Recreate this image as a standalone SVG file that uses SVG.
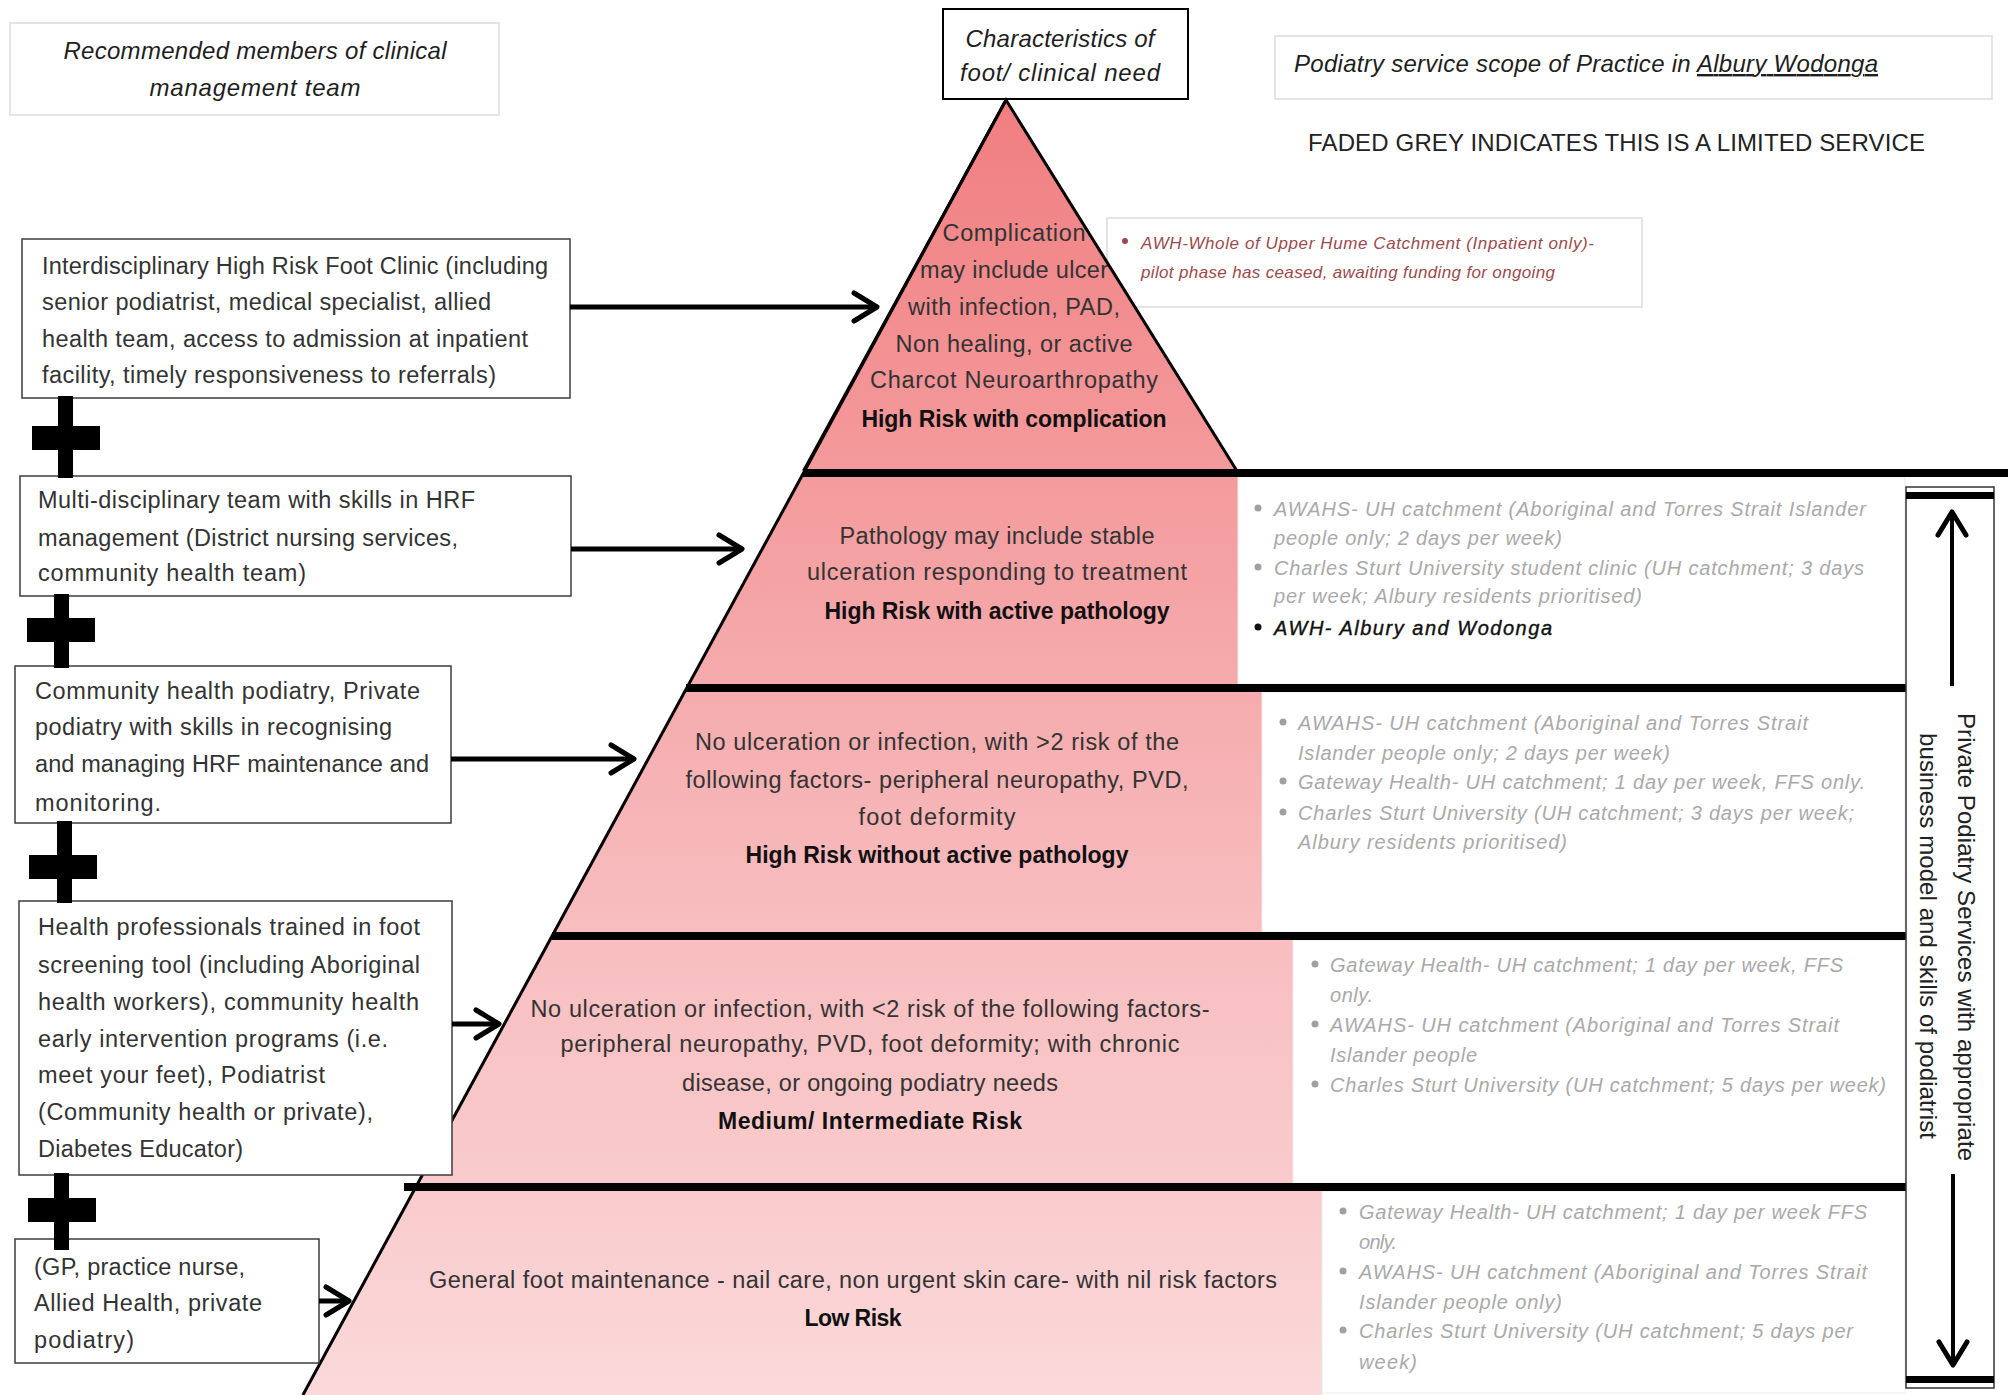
<svg xmlns="http://www.w3.org/2000/svg" width="2008" height="1395" viewBox="0 0 2008 1395">
<defs>
<linearGradient id="pg" gradientUnits="userSpaceOnUse" x1="0" y1="100" x2="0" y2="1395">
<stop offset="0" stop-color="#F07E80"/>
<stop offset="0.286" stop-color="#F49A9C"/>
<stop offset="0.45" stop-color="#F5ABAD"/>
<stop offset="0.645" stop-color="#F8BEC0"/>
<stop offset="0.84" stop-color="#F9CBCC"/>
<stop offset="1" stop-color="#FBD9DA"/>
</linearGradient>
<marker id="ah" viewBox="0 0 32 32" markerWidth="32" markerHeight="32" refX="27" refY="16" orient="auto" markerUnits="userSpaceOnUse" overflow="visible">
<path d="M4,2 L27,16 L4,30" fill="none" stroke="#000" stroke-width="5" stroke-linejoin="round" stroke-linecap="round"/>
</marker>
<style>
.box{fill:#fff;stroke:#3c3c3c;stroke-width:1.5}
.fbox{fill:#fff;stroke:#dcdcdc;stroke-width:1.5}
.t{font-family:'Liberation Sans',Arial,sans-serif;font-size:23.5px;fill:#333}
.ti{font-family:'Liberation Sans',Arial,sans-serif;font-size:24px;font-style:italic;fill:#1e1e1e}
.pt{font-family:'Liberation Sans',Arial,sans-serif;font-size:23.5px;fill:#333;text-anchor:middle}
.pb{font-family:'Liberation Sans',Arial,sans-serif;font-size:23px;font-weight:bold;fill:#111;text-anchor:middle}
.g{font-family:'Liberation Sans',Arial,sans-serif;font-size:20px;font-style:italic;fill:#a9a9a9}
.k{font-family:'Liberation Sans',Arial,sans-serif;font-size:20px;font-style:italic;fill:#111;stroke:#111;stroke-width:0.4}
.r{font-family:'Liberation Sans',Arial,sans-serif;font-size:17px;font-style:italic;fill:#9c4a4c}
.v{font-family:'Liberation Sans',Arial,sans-serif;font-size:24px;fill:#222;text-anchor:middle}
.tier{fill:url(#pg)}
.panel{fill:#fff;stroke:#ececec;stroke-width:1}
.tl{stroke:#000;stroke-width:8}
.edge{stroke:#000;stroke-width:3;fill:none}
.arr{stroke:#000;stroke-width:5;fill:none;marker-end:url(#ah)}
.varr{stroke:#000;stroke-width:4;fill:none;marker-end:url(#ah)}
.gb{fill:#a0a0a0}
.kb{fill:#111}
.rb{fill:#9c4a4c}
.cross{fill:#000}
</style>
</defs>
<rect x="0" y="0" width="2008" height="1395" fill="#fff"/>

<g id="header-left">
<rect class="fbox" x="10" y="23" width="489" height="92"/>
<text class="ti" x="255" y="59" text-anchor="middle" textLength="383">Recommended members of clinical</text>
<text class="ti" x="255" y="96" text-anchor="middle" textLength="211">management team</text>
</g>

<g id="header-center">
<rect x="943" y="9" width="245" height="90" fill="#fff" stroke="#000" stroke-width="2"/>
<text class="ti" x="1060" y="47" text-anchor="middle" textLength="189">Characteristics of</text>
<text class="ti" x="1060" y="81" text-anchor="middle" textLength="200">foot/ clinical need</text>
</g>

<g id="header-right">
<rect class="fbox" x="1275" y="36" width="717" height="63"/>
<text class="ti" x="1294" y="72" textLength="584">Podiatry service scope of Practice in <tspan text-decoration="underline">Albury Wodonga</tspan></text>
</g>

<g id="legend">
<text x="1308" y="151" font-family="'Liberation Sans',Arial,sans-serif" font-size="24" fill="#222" textLength="617">FADED GREY INDICATES THIS IS A LIMITED SERVICE</text>
</g>

<g id="service-tier1-box">
<rect class="fbox" x="1107" y="218" width="535" height="89"/>
</g>

<g id="pyramid">
<polygon class="tier" points="1006,100 1237,471 804,471"/>
<polygon class="tier" points="803.5,473 1238,473 1238,688 686.8,688"/>
<polygon class="tier" points="686.8,688 1262,688 1262,936 552,936"/>
<polygon class="tier" points="552,936 1293,936 1293,1187 415.9,1187"/>
<polygon class="tier" points="415.9,1187 1322,1187 1322,1395 302.9,1395"/>
</g>

<g id="panels">
<rect class="panel" x="1238" y="477" width="667" height="207"/>
<rect class="panel" x="1262" y="692" width="643" height="240"/>
<rect class="panel" x="1293" y="940" width="612" height="243"/>
<rect class="panel" x="1322" y="1191" width="583" height="202"/>
</g>

<g id="tier-lines">
<line class="tl" x1="803" y1="473" x2="2008" y2="473"/>
<line class="tl" x1="686" y1="688" x2="1907" y2="688"/>
<line class="tl" x1="552" y1="936" x2="1907" y2="936"/>
<line class="tl" x1="404" y1="1187" x2="1907" y2="1187"/>
<polyline class="edge" points="803.5,471 1006,100 1237,471"/>
<line class="edge" x1="1006" y1="100" x2="302.9" y2="1395"/>
</g>

<g id="tier1-text">
<text class="pt" x="1014" y="241" textLength="143">Complication</text>
<text class="pt" x="1014" y="278" textLength="188">may include ulcer</text>
<text class="pt" x="1014" y="315" textLength="212">with infection, PAD,</text>
<text class="pt" x="1014" y="352" textLength="237">Non healing, or active</text>
<text class="pt" x="1014" y="388" textLength="288">Charcot Neuroarthropathy</text>
<text class="pb" x="1014" y="427" textLength="305">High Risk with complication</text>
</g>

<g id="tier2-text">
<text class="pt" x="997" y="544" textLength="315">Pathology may include stable</text>
<text class="pt" x="997" y="580" textLength="380">ulceration responding to treatment</text>
<text class="pb" x="997" y="619" textLength="345">High Risk with active pathology</text>
</g>

<g id="tier3-text">
<text class="pt" x="937" y="750" textLength="484">No ulceration or infection, with &gt;2 risk of the</text>
<text class="pt" x="937" y="788" textLength="503">following factors- peripheral neuropathy, PVD,</text>
<text class="pt" x="937" y="825" textLength="157">foot deformity</text>
<text class="pb" x="937" y="863" textLength="383">High Risk without active pathology</text>
</g>

<g id="tier4-text">
<text class="pt" x="870" y="1017" textLength="679">No ulceration or infection, with &lt;2 risk of the following factors-</text>
<text class="pt" x="870" y="1052" textLength="619">peripheral neuropathy, PVD, foot deformity; with chronic</text>
<text class="pt" x="870" y="1091" textLength="376">disease, or ongoing podiatry needs</text>
<text class="pb" x="870" y="1129" textLength="304">Medium/ Intermediate Risk</text>
</g>

<g id="tier5-text">
<text class="pt" x="853" y="1288" textLength="848">General foot maintenance - nail care, non urgent skin care- with nil risk factors</text>
<text class="pb" x="853" y="1326" textLength="97">Low Risk</text>
</g>

<g id="service-tier1">
<circle class="rb" cx="1125" cy="241" r="3"/>
<text class="r" x="1141" y="249" textLength="453">AWH-Whole of Upper Hume Catchment (Inpatient only)-</text>
<text class="r" x="1141" y="278" textLength="414">pilot phase has ceased, awaiting funding for ongoing</text>
</g>

<g id="service-tier2">
<circle class="gb" cx="1258" cy="508" r="3.5"/>
<circle class="gb" cx="1258" cy="567" r="3.5"/>
<circle class="kb" cx="1258" cy="627" r="3.5"/>
<text class="g" x="1274" y="516" textLength="592">AWAHS- UH catchment (Aboriginal and Torres Strait Islander</text>
<text class="g" x="1274" y="545" textLength="288">people only; 2 days per week)</text>
<text class="g" x="1274" y="575" textLength="590">Charles Sturt University student clinic (UH catchment; 3 days</text>
<text class="g" x="1274" y="603" textLength="368">per week; Albury residents prioritised)</text>
<text class="k" x="1274" y="635" textLength="278">AWH- Albury and Wodonga</text>
</g>

<g id="service-tier3">
<circle class="gb" cx="1283" cy="722" r="3.5"/>
<circle class="gb" cx="1283" cy="781" r="3.5"/>
<circle class="gb" cx="1283" cy="812" r="3.5"/>
<text class="g" x="1298" y="730" textLength="510">AWAHS- UH catchment (Aboriginal and Torres Strait</text>
<text class="g" x="1298" y="760" textLength="372">Islander people only; 2 days per week)</text>
<text class="g" x="1298" y="789" textLength="567">Gateway Health- UH catchment; 1 day per week, FFS only.</text>
<text class="g" x="1298" y="820" textLength="556">Charles Sturt University (UH catchment; 3 days per week;</text>
<text class="g" x="1298" y="849" textLength="269">Albury residents prioritised)</text>
</g>

<g id="service-tier4">
<circle class="gb" cx="1315" cy="964" r="3.5"/>
<circle class="gb" cx="1315" cy="1024" r="3.5"/>
<circle class="gb" cx="1315" cy="1084" r="3.5"/>
<text class="g" x="1330" y="972" textLength="513">Gateway Health- UH catchment; 1 day per week, FFS</text>
<text class="g" x="1330" y="1002" textLength="43">only.</text>
<text class="g" x="1330" y="1032" textLength="509">AWAHS- UH catchment (Aboriginal and Torres Strait</text>
<text class="g" x="1330" y="1062" textLength="147">Islander people</text>
<text class="g" x="1330" y="1092" textLength="556">Charles Sturt University (UH catchment; 5 days per week)</text>
</g>

<g id="service-tier5">
<circle class="gb" cx="1343" cy="1211" r="3.5"/>
<circle class="gb" cx="1343" cy="1271" r="3.5"/>
<circle class="gb" cx="1343" cy="1330" r="3.5"/>
<text class="g" x="1359" y="1219" textLength="508">Gateway Health- UH catchment; 1 day per week FFS</text>
<text class="g" x="1359" y="1249" textLength="38">only.</text>
<text class="g" x="1359" y="1279" textLength="508">AWAHS- UH catchment (Aboriginal and Torres Strait</text>
<text class="g" x="1359" y="1309" textLength="203">Islander people only)</text>
<text class="g" x="1359" y="1338" textLength="494">Charles Sturt University (UH catchment; 5 days per</text>
<text class="g" x="1359" y="1369" textLength="58">week)</text>
</g>

<g id="private-podiatry">
<rect x="1906" y="487" width="88" height="901" fill="#fff" stroke="#333" stroke-width="1.5"/>
<rect x="1906" y="492" width="88" height="7" fill="#000"/>
<rect x="1906" y="1376" width="88" height="7" fill="#000"/>
<text class="v" transform="translate(1958,937) rotate(90)" x="0" y="0" textLength="448">Private Podiatry Services with appropriate</text>
<text class="v" transform="translate(1920,936) rotate(90)" x="0" y="0" textLength="406">business model and skills of podiatrist</text>
</g>

<g id="team-boxes">
<g id="box-hrf-clinic">
<rect class="box" x="22" y="239" width="548" height="159"/>
<text class="t" x="42" y="274" textLength="506">Interdisciplinary High Risk Foot Clinic (including</text>
<text class="t" x="42" y="310" textLength="449">senior podiatrist, medical specialist, allied</text>
<text class="t" x="42" y="347" textLength="486">health team, access to admission at inpatient</text>
<text class="t" x="42" y="383" textLength="454">facility, timely responsiveness to referrals)</text>
</g>
<g id="box-multidisciplinary">
<rect class="box" x="20" y="476" width="551" height="120"/>
<text class="t" x="38" y="508" textLength="437">Multi-disciplinary team with skills in HRF</text>
<text class="t" x="38" y="546" textLength="420">management (District nursing services,</text>
<text class="t" x="38" y="581" textLength="268">community health team)</text>
</g>
<g id="box-community">
<rect class="box" x="15" y="666" width="436" height="157"/>
<text class="t" x="35" y="699" textLength="385">Community health podiatry, Private</text>
<text class="t" x="35" y="735" textLength="357">podiatry with skills in recognising</text>
<text class="t" x="35" y="772" textLength="394">and managing HRF maintenance and</text>
<text class="t" x="35" y="811" textLength="126">monitoring.</text>
</g>
<g id="box-screening">
<rect class="box" x="19" y="901" width="433" height="274"/>
<text class="t" x="38" y="935" textLength="382">Health professionals trained in foot</text>
<text class="t" x="38" y="973" textLength="382">screening tool (including Aboriginal</text>
<text class="t" x="38" y="1010" textLength="381">health workers), community health</text>
<text class="t" x="38" y="1047" textLength="350">early intervention programs (i.e.</text>
<text class="t" x="38" y="1083" textLength="287">meet your feet), Podiatrist</text>
<text class="t" x="38" y="1120" textLength="335">(Community health or private),</text>
<text class="t" x="38" y="1157" textLength="205">Diabetes Educator)</text>
</g>
<g id="box-gp">
<rect class="box" x="15" y="1239" width="304" height="124"/>
<text class="t" x="34" y="1275" textLength="211">(GP, practice nurse,</text>
<text class="t" x="34" y="1311" textLength="228">Allied Health, private</text>
<text class="t" x="34" y="1348" textLength="100">podiatry)</text>
</g>
</g>

<g id="plus-signs">
<rect class="cross" x="58" y="396" width="15" height="82"/><rect class="cross" x="32" y="426" width="68" height="24"/>
<rect class="cross" x="54" y="594" width="15" height="74"/><rect class="cross" x="27" y="618" width="68" height="24"/>
<rect class="cross" x="57" y="821" width="15" height="82"/><rect class="cross" x="29" y="855" width="68" height="24"/>
<rect class="cross" x="54" y="1173" width="15" height="77"/><rect class="cross" x="28" y="1198" width="68" height="24"/>
</g>

<g id="connectors">
<line class="arr" x1="570" y1="307" x2="877" y2="307"/>
<line class="arr" x1="571" y1="549" x2="742" y2="549"/>
<line class="arr" x1="451" y1="759" x2="634" y2="759"/>
<line class="arr" x1="452" y1="1024" x2="499" y2="1024"/>
<line class="arr" x1="319" y1="1301" x2="349" y2="1301"/>
<line class="varr" x1="1952" y1="686" x2="1952" y2="512"/>
<line class="varr" x1="1953" y1="1174" x2="1953" y2="1365"/>
</g>
</svg>
